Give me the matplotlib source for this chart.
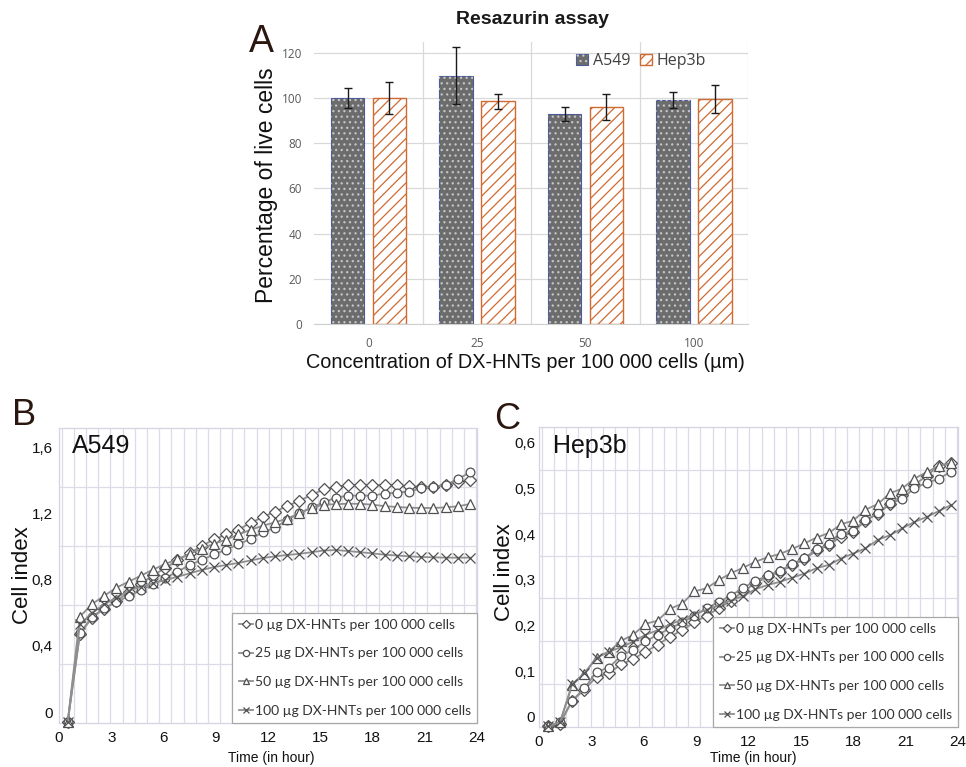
import numpy as np
import matplotlib
matplotlib.use('Agg')
import matplotlib.pyplot as plt
from matplotlib import font_manager as fm

# ---------------- data ----------------
conc_labels = ['0', '25', '50', '100']
a549_mean = [100.0, 109.8, 93.0, 99.1]
a549_err = [4.3, 12.6, 3.2, 3.6]
hep3b_mean = [100.0, 98.5, 96.0, 99.6]
hep3b_err = [7.2, 3.2, 5.8, 6.2]

times = [0.5, 1.2, 1.9, 2.6, 3.3, 4.0, 4.7, 5.4, 6.1, 6.8, 7.5, 8.2, 8.9, 9.6,
         10.3, 11.0, 11.7, 12.4, 13.1, 13.8, 14.5, 15.2, 15.9, 16.6, 17.3,
         18.0, 18.7, 19.4, 20.1, 20.8, 21.5, 22.2, 22.9, 23.6]

series_labels = ['0 µg DX-HNTs per 100 000 cells',
                 '25 µg DX-HNTs per 100 000 cells',
                 '50 µg DX-HNTs per 100 000 cells',
                 '100 µg DX-HNTs per 100 000 cells']

a549_0 = [-0.06, 0.471, 0.57, 0.625, 0.67, 0.725, 0.775, 0.825, 0.87, 0.915, 0.958,
          1.004, 1.042, 1.072, 1.102, 1.142, 1.178, 1.21, 1.244, 1.276, 1.31, 1.345,
          1.36, 1.37, 1.372, 1.37, 1.37, 1.368, 1.362, 1.356, 1.36, 1.372, 1.386, 1.40]
a549_25 = [-0.06, 0.475, 0.576, 0.626, 0.665, 0.70, 0.735, 0.77, 0.81, 0.847, 0.888,
           0.918, 0.952, 0.98, 1.013, 1.045, 1.085, 1.113, 1.16, 1.20, 1.235, 1.266,
           1.294, 1.307, 1.307, 1.307, 1.319, 1.325, 1.331, 1.351, 1.361, 1.371, 1.407, 1.447]
a549_50 = [-0.06, 0.576, 0.652, 0.702, 0.751, 0.787, 0.823, 0.86, 0.894, 0.922, 0.956,
           0.986, 1.016, 1.041, 1.072, 1.10, 1.125, 1.145, 1.168, 1.20, 1.233, 1.252,
           1.255, 1.258, 1.257, 1.252, 1.243, 1.238, 1.234, 1.232, 1.232, 1.236, 1.242, 1.256]
a549_100 = [-0.06, 0.529, 0.60, 0.65, 0.69, 0.733, 0.757, 0.777, 0.797, 0.817, 0.837,
            0.858, 0.875, 0.888, 0.90, 0.915, 0.93, 0.94, 0.948, 0.955, 0.965, 0.975,
            0.978, 0.972, 0.965, 0.958, 0.95, 0.945, 0.94, 0.936, 0.934, 0.932, 0.932, 0.932]

hep_0 = [-0.02, -0.015, 0.035, 0.06, 0.088, 0.096, 0.115, 0.127, 0.143, 0.158, 0.176,
         0.19, 0.207, 0.222, 0.238, 0.255, 0.275, 0.293, 0.308, 0.318, 0.332, 0.345,
         0.365, 0.376, 0.395, 0.405, 0.43, 0.445, 0.466, 0.486, 0.508, 0.528, 0.55, 0.556]
hep_25 = [-0.02, -0.012, 0.036, 0.063, 0.099, 0.108, 0.134, 0.147, 0.166, 0.18, 0.194,
          0.207, 0.222, 0.238, 0.252, 0.266, 0.283, 0.298, 0.31, 0.32, 0.335, 0.348,
          0.367, 0.379, 0.40, 0.408, 0.431, 0.446, 0.468, 0.477, 0.502, 0.512, 0.522, 0.537]
hep_50 = [-0.02, -0.012, 0.07, 0.095, 0.13, 0.143, 0.167, 0.18, 0.204, 0.211, 0.237,
          0.248, 0.275, 0.282, 0.30, 0.315, 0.327, 0.34, 0.35, 0.357, 0.368, 0.38,
          0.393, 0.403, 0.422, 0.43, 0.454, 0.466, 0.49, 0.50, 0.522, 0.536, 0.55, 0.556]
hep_100 = [-0.02, -0.012, 0.072, 0.096, 0.13, 0.143, 0.153, 0.165, 0.18, 0.19, 0.203,
           0.213, 0.225, 0.235, 0.245, 0.255, 0.265, 0.28, 0.289, 0.296, 0.305, 0.314,
           0.326, 0.333, 0.347, 0.358, 0.369, 0.388, 0.398, 0.413, 0.427, 0.438, 0.451, 0.464]

hour_ticks = [0, 3, 6, 9, 12, 15, 18, 21, 24]
hour_labels = ['0', '3', '6', '9', '12', '15', '18', '21', '24']
b_yticks = [0, 0.4, 0.8, 1.2, 1.6]
b_ylabels = ['0', '0,4', '0,8', '1,2', '1,6']
c_yticks = [0, 0.1, 0.2, 0.3, 0.4, 0.5, 0.6]
c_ylabels = ['0', '0,1', '0,2', '0,3', '0,4', '0,5', '0,6']

# ---------------- style ----------------
names = {f.name for f in fm.fontManager.ttflist}
ARIAL = 'Liberation Sans'
if 'Liberation Sans Narrow' in names:
    NARROW, NSIZE, TSIZE = 'Liberation Sans Narrow', 12.5, 11.5
else:
    NARROW, NSIZE, TSIZE = 'Liberation Sans', 11, 10
LEG = 'Lato' if 'Lato' in names else 'DejaVu Sans'
UI = 'Open Sans' if 'Open Sans' in names else 'DejaVu Sans'
plt.rcParams['hatch.linewidth'] = 0.9

W, H = 966, 767
fig = plt.figure(figsize=(W / 100, H / 100), dpi=100)
fig.patch.set_facecolor('white')


def fx(px):
    return px / W


def fy(py):
    return 1 - py / H


LETTER = '#2b1710'
GRID = '#dcdce8'

# ---------------- Panel A ----------------
axA = fig.add_axes([fx(314), fy(324), fx(434), 282 / H])
x = np.arange(len(conc_labels))
w = 0.31
b1 = axA.bar(x - 0.19, a549_mean, w, color='#6c6c6c', edgecolor='#4b5b9b',
             linewidth=0.8, zorder=2)
b1d = axA.bar(x - 0.19, a549_mean, w, color='none', edgecolor='#c4c4c4',
              hatch='...', linewidth=0, zorder=3)
b2 = axA.bar(x + 0.195, hep3b_mean, w, color='white', edgecolor='#cf6a32',
             hatch='///', linewidth=1.0, zorder=2)
axA.errorbar(x - 0.19, a549_mean, yerr=a549_err, fmt='none', ecolor='#1a1a1a',
             elinewidth=1.0, capsize=3, capthick=1.0, zorder=5)
axA.errorbar(x + 0.195, hep3b_mean, yerr=hep3b_err, fmt='none', ecolor='#1a1a1a',
             elinewidth=1.0, capsize=3, capthick=1.0, zorder=5)
axA.set_xlim(-0.5, len(conc_labels) - 0.5)
axA.set_ylim(0, 124.8)
axA.set_yticks(range(0, 121, 20))
axA.set_xticks(x, conc_labels)
axA.tick_params(axis='y', length=0, pad=8.5, labelsize=8.5, labelcolor='#595959')
axA.tick_params(axis='x', length=0, pad=9.5, labelsize=8.5, labelcolor='#595959')
for lab in axA.get_xticklabels() + axA.get_yticklabels():
    lab.set_family(UI)
axA.yaxis.grid(True, color='#d9d9d9', lw=0.9, zorder=0)
for b in np.arange(0.5, len(conc_labels), 1.0):
    axA.axvline(b, color='#d9d9d9', lw=0.9, zorder=0)
for s in ['left', 'top', 'right']:
    axA.spines[s].set_visible(False)
axA.spines['bottom'].set_color('#cfcfcf')
axA.set_axisbelow(True)
legA = axA.legend([(b1, b1d), b2], ['A549', 'Hep3b'], loc='center right',
                  bbox_to_anchor=(fx(706), fy(61)), bbox_transform=fig.transFigure,
                  ncol=2, frameon=False, handlelength=0.75, handleheight=0.75,
                  columnspacing=0.6, handletextpad=0.3, borderpad=0, borderaxespad=0,
                  prop={'family': UI, 'size': 11.5})
for t in legA.get_texts():
    t.set_color('#404040')

fig.text(fx(533), fy(19), 'Resazurin assay', ha='center', va='center',
         family=ARIAL, weight='bold', fontsize=14, color='#1a1a1a')
fig.text(fx(249), fy(52), 'A', ha='left', va='baseline', family=ARIAL,
         fontsize=27, color=LETTER)
fig.text(fx(267), fy(185), 'Percentage of live cells', rotation=90, ha='center',
         va='center', family=ARIAL, fontsize=16.5, color='#111111')
fig.text(fx(525), fy(362), 'Concentration of DX-HNTs per 100 000 cells (µm)',
         ha='center', va='center', family=ARIAL, fontsize=14.3, color='#111111')

# ---------------- Panels B and C ----------------
markers = [('D', 6.0), ('o', 6.3), ('^', 6.8), ('x', 6.5)]


def time_panel(ax, data, ylo, yhi, nrows, yticks, ylabels, ypad):
    ax.set_xlim(0, 24)
    ax.set_ylim(ylo, yhi)
    for yv in np.linspace(ylo, yhi, nrows + 1)[1:-1]:
        ax.axhline(yv, color=GRID, lw=0.9, zorder=0)
    t = np.asarray(times)
    half = (t[1] - t[0]) / 2
    bounds = np.concatenate([[t[0] - half], (t[:-1] + t[1:]) / 2, [t[-1] + half]])
    for bx in bounds:
        ax.axvline(bx, color=GRID, lw=0.9, zorder=0)
    handles = []
    for vals, (m, ms), lab in zip(data, markers, series_labels):
        ln, = ax.plot(times, vals, color='#8f8f8f', lw=1.3, marker=m, ms=ms,
                      mfc='white', mec='#505050', mew=0.9, label=lab,
                      clip_on=False, zorder=3)
        handles.append(ln)
    ax.set_xticks(hour_ticks, hour_labels)
    ax.set_yticks(yticks, ylabels)
    ax.tick_params(axis='both', length=0, labelsize=NSIZE, labelcolor='#111111')
    ax.tick_params(axis='x', pad=6)
    ax.tick_params(axis='y', pad=ypad)
    for lab in ax.get_xticklabels() + ax.get_yticklabels():
        lab.set_family(NARROW)
    for s in ax.spines.values():
        s.set_color('#d4d4e2')
        s.set_linewidth(0.9)
    leg = ax.legend(handles=handles, loc='lower right', borderaxespad=0,
                    frameon=True, fancybox=False, framealpha=1, edgecolor='#a8a8a8',
                    handlelength=1.05, handletextpad=0.1, labelspacing=1.2,
                    borderpad=0.45, markerscale=0.72,
                    prop={'family': LEG, 'size': 10})
    leg.get_frame().set_linewidth(0.9)
    leg.set_zorder(6)
    for tx in leg.get_texts():
        tx.set_color('#333333')
    return ax


axB = fig.add_axes([fx(59), fy(723), fx(418), 295 / H])
time_panel(axB, [a549_0, a549_25, a549_50, a549_100], -0.0664, 1.715, 5,
           b_yticks, b_ylabels, 4.5)
axB.text((72 - 59) / 418, (723 - 446) / 295, 'A549',
         transform=axB.transAxes, ha='left', va='center',
         family=ARIAL, fontsize=18, color='#111111')

axC = fig.add_axes([fx(539), fy(727), fx(419), 300 / H])
time_panel(axC, [hep_0, hep_25, hep_50, hep_100], -0.0219, 0.635, 7,
           c_yticks, c_ylabels, 2.8)
axC.text((553 - 539) / 419, (727 - 446) / 300, 'Hep3b', transform=axC.transAxes,
         ha='left', va='center', family=ARIAL, fontsize=18, color='#111111')

fig.text(fx(12), fy(425), 'B', ha='left', va='baseline', family=ARIAL,
         fontsize=26, color=LETTER)
fig.text(fx(494), fy(429), 'C', ha='left', va='baseline', family=ARIAL,
         fontsize=26, color=LETTER)
fig.text(fx(23), fy(575), 'Cell index', rotation=90, ha='center', va='center',
         family=ARIAL, fontsize=16, color='#111111')
fig.text(fx(505), fy(572), 'Cell index', rotation=90, ha='center', va='center',
         family=ARIAL, fontsize=16, color='#111111')
fig.text(fx(271), fy(758), 'Time (in hour)', ha='center', va='center',
         family=NARROW, fontsize=TSIZE, color='#111111')
fig.text(fx(753), fy(758), 'Time (in hour)', ha='center', va='center',
         family=NARROW, fontsize=TSIZE, color='#111111')

fig.savefig('out.png', dpi=100, facecolor='white')
